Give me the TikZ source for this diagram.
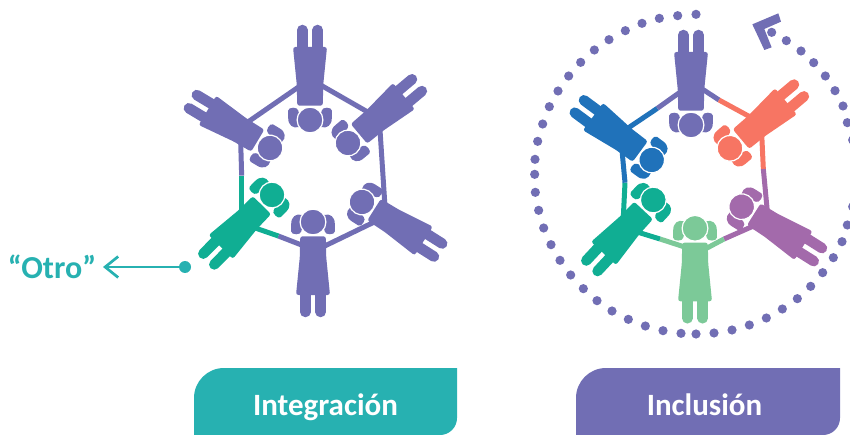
\documentclass[tikz,border=0pt]{standalone}
\usepackage{fontspec}
\setmainfont{Carlito}
\usetikzlibrary{arrows.meta}
\definecolor{purp}{HTML}{716EB4}
\definecolor{tealg}{HTML}{10AE93}
\definecolor{blu}{HTML}{2072BA}
\definecolor{coral}{HTML}{F77563}
\definecolor{viol}{HTML}{A36AAB}
\definecolor{lgreen}{HTML}{7CC998}
\definecolor{cyanb}{HTML}{27B1B1}
\tikzset{
  armline/.style={line width=5pt,line cap=butt},
  tag/.style={text=white,font=\fontsize{31}{34}\selectfont\bfseries,inner sep=0pt,anchor=base},
  ringdot/.style={fill=purp,draw=none},
}
\newcommand\pigtail{%
  \fill (-11,-7) .. controls (-17,-9) and (-22,-5) .. (-21.8,2) -- (-21.8,9.5)
    .. controls (-21.8,13.2) and (-12,13.2) .. (-11.8,9.5) -- (-10,3) -- (-10,-7) -- cycle;}
\newcommand\kid[4]{% x y rotation colour
  \begin{scope}[shift={(#1,#2)},rotate=#3,fill=#4]
    \pigtail
    \begin{scope}[xscale=-1]\pigtail\end{scope}
    \fill[rounded corners=2.5pt] (-12.8,14.3) -- (12.8,14.3) -- (13.2,35) -- (17,73) -- (-17,73) -- (-13.2,35) -- cycle;
    \draw[#4,line width=10.5pt,line cap=round] (-7.7,68) -- (-7.7,90);
    \draw[#4,line width=10.5pt,line cap=round] (7.7,68) -- (7.7,90);
    \filldraw[draw=white,line width=1.2pt,fill=#4] (0,0) circle (12.9);
  \end{scope}}
\newcommand\lpt[2]{({170+(#1)/3},{10+(#2)/3})}
\newcommand\rpt[2]{({520+(#1)/3},{(#2)/3})}
\begin{document}
\begin{tikzpicture}[x=1pt,y=-1pt]
\useasboundingbox (0,0) rectangle (850,435);
\clip (0,0) rectangle (850,435);
% left hexagon
\draw[armline,purp] \lpt{450}{224} -- \lpt{600}{310};
\draw[armline,purp] \lpt{630}{360} -- \lpt{645}{590};
\draw[armline,purp] \lpt{615}{635} -- \lpt{460}{710};
\draw[armline,purp] \lpt{405}{709} -- \lpt{325}{678};
\draw[armline,tealg] \lpt{325}{678} -- \lpt{250}{652};
\draw[armline,tealg] \lpt{215}{600} -- \lpt{215}{497};
\draw[armline,purp] \lpt{215}{497} -- \lpt{212}{395};
\draw[armline,purp] \lpt{225}{342} -- \lpt{390}{228};
\kid{310}{120}{180}{purp}
\kid{348}{143}{130}{purp}
\kid{270}{148}{-121}{purp}
\kid{362}{202}{57.7}{purp}
\kid{272}{195}{-44.6}{tealg}
\kid{313}{222}{0}{purp}
% right hexagon
\draw[armline,purp] \rpt{542}{264} -- \rpt{597}{300};
\draw[armline,coral] \rpt{597}{300} -- \rpt{700}{356};
\draw[armline,coral] \rpt{725}{400} -- \rpt{730}{507};
\draw[armline,viol] \rpt{730}{507} -- \rpt{742}{635};
\draw[armline,viol] \rpt{705}{676} -- \rpt{612}{717};
\draw[armline,lgreen] \rpt{612}{717} -- \rpt{550}{750};
\draw[armline,lgreen] \rpt{500}{743} -- \rpt{420}{717};
\draw[armline,tealg] \rpt{420}{717} -- \rpt{345}{694};
\draw[armline,tealg] \rpt{310}{650} -- \rpt{315}{548};
\draw[armline,blu] \rpt{315}{548} -- \rpt{305}{440};
\draw[armline,blu] \rpt{320}{387} -- \rpt{412}{325};
\draw[armline,purp] \rpt{412}{325} -- \rpt{485}{273};
\kid{691}{125}{180}{purp}
\kid{730}{148.3}{130}{coral}
\kid{651.7}{160}{-126.5}{blu}
\kid{741.7}{206.7}{57.8}{viol}
\kid{653.3}{200}{-43}{tealg}
\kid{695}{228.3}{0}{lgreen}
% dotted ring
\foreach \zx/\zy in {528/43,473/47,418/55,366/70,316/92,267/119,223/150,182/187,146/228,114/273,88/320,68/372,53/424,45/478,44/523,46/577,56/631,71/684,93/734,120/781,152/825,190/866,231/902,276/933,325/958,376/978,429/992,483/1000,528/1002,582/999,636/990,688/975,739/954,787/927,832/896,872/859,908/818,940/773,966/725,982/675,998/620,998/420,982/368,969/318,945/272,916/228,881/188,843/153,799/122,755/97}
  \fill[ringdot] \rpt{\zx}{\zy} circle (4.6);
% turning arrowhead
\fill[purp] \rpt{697}{73} -- \rpt{775}{40} -- \rpt{783}{65} -- \rpt{733}{87} -- \rpt{755}{142} -- \rpt{733}{150} -- cycle;
% Otro
\node[inner sep=0pt,anchor=base,text=cyanb,font=\fontsize{32}{35}\selectfont\bfseries] (otro) at (52,278) {“Otro”};
\node[circle,fill=cyanb,minimum size=12pt,inner sep=0pt] (otrodot) at (185,267) {};
\coordinate (otrotip) at (103,267);
\draw[cyanb,line width=2.7pt,-{Straight Barb[length=13pt,width=21pt,line width=2.7pt]}] (otrodot) -- (otrotip);
% tags
\fill[cyanb] (194,435) -- (194,398) .. controls (194,381.4) and (207.4,368) .. (224,368) -- (457,368) -- (457,418) .. controls (457,427.4) and (449.4,435) .. (440,435) -- cycle;
\node[tag] (integ) at (325.5,415) {Integración};
\fill[purp] (576,435) -- (576,398) .. controls (576,381.4) and (589.4,368) .. (606,368) -- (840,368) -- (840,418) .. controls (840,427.4) and (832.4,435) .. (823,435) -- cycle;
\node[tag] (incl) at (704.5,415) {Inclusión};
\end{tikzpicture}
\end{document}
